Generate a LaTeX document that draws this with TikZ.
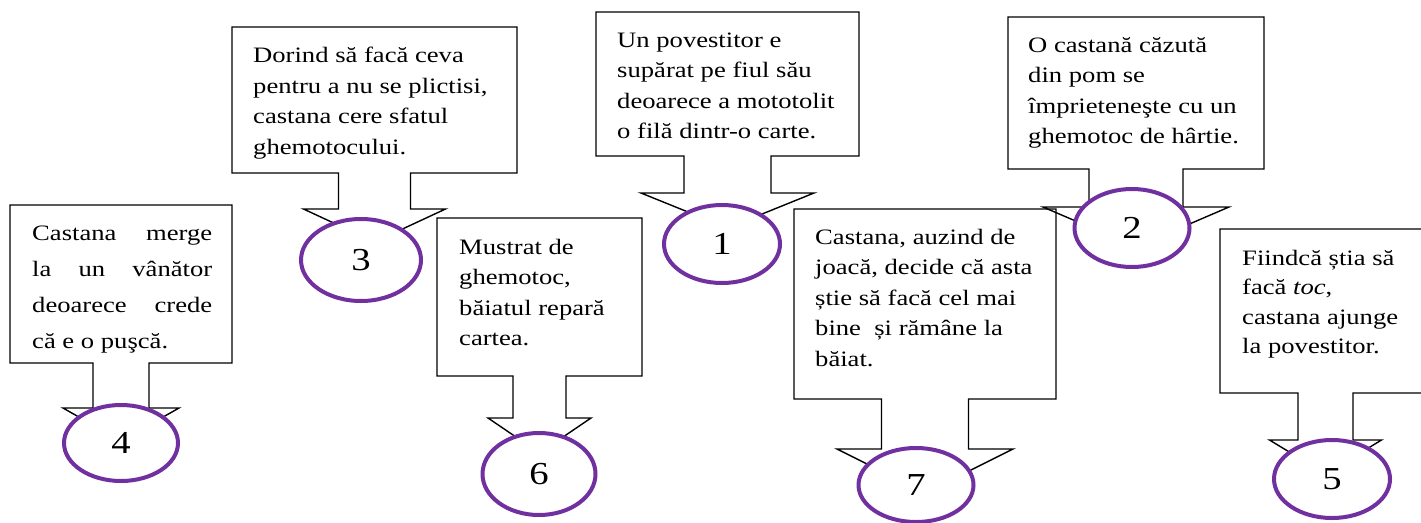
\documentclass[tikz,border=0pt]{standalone}
\usepackage{fontspec}
\usepackage{graphicx}
\setmainfont{Liberation Serif}
\usetikzlibrary{shapes.geometric,calc}
\definecolor{ovalpurple}{RGB}{112,48,160}
\newcommand\callbox[9]{%
  \pgfmathsetmacro\cx{(#2+#4)/2}%
  \node[boxnode, minimum width={(#4-#2)*1pt}, minimum height={(#5-#3)*1pt}, anchor=north west] (#1) at (#2,#3) {};
  \draw[outline] (#1.north west) -- (#1.north east) -- (#1.south east)
    -- (\cx+#6,#5) -- (\cx+#6,#7) -- (\cx+#8,#7) -- (\cx,#9) -- (\cx-#8,#7)
    -- (\cx-#6,#7) -- (\cx-#6,#5) -- (#1.south west) -- cycle;
}
% text stretched horizontally like the reference
\newcommand\stx[2][30.6pt]{\scalebox{1.21}[1]{\fontsize{22}{#1}\selectfont\begin{tabular}[t]{@{}l@{}}#2\end{tabular}}}
\newcommand\jline[1]{\hbox to 148.8pt{#1}}
\newcommand\numtxt[1]{\scalebox{1.21}[1]{#1}}
\begin{document}
\begin{tikzpicture}[x=1pt,y=-1pt,
  boxnode/.style={rectangle, draw=none, inner sep=0pt, outer sep=0pt},
  outline/.style={draw=black, line width=1.4pt, line join=miter},
  txt/.style={anchor=base west, inner sep=0pt},
  oval/.style={ellipse, draw=ovalpurple, line width=4pt, fill=white, inner sep=0pt,
    font=\fontsize{32}{36}\selectfont}
]
\useasboundingbox (0,0) rectangle (1421,522);
\clip (0,0) rectangle (1421,522);

% callout boxes: name, L, T, R, B, stem half, stem bottom, wing half, tip
\callbox{b2}{1008}{17}{1264}{169}{47}{207}{93}{247}
\callbox{b7}{794}{209}{1056}{399}{43.5}{449}{88}{493}
\callbox{b4}{10}{205}{232}{363}{28}{408}{58}{441}
\callbox{b3}{232}{27}{517}{173}{36}{209}{71}{242}
\callbox{b1}{596}{12}{859}{156}{43.5}{193}{86.5}{228}
\callbox{b5}{1220}{229}{1431}{393}{27.5}{440}{56}{474}
\callbox{b6}{437}{218}{642}{376}{26.5}{418}{51.5}{453}

% texts
\node[txt] (t1) at ($(b1.north west)+(21,35)$)
  {\stx{Un povestitor e\\supărat pe fiul său\\deoarece a mototolit\\o filă dintr-o carte.}};
\node[txt] (t2) at ($(b2.north west)+(20,35)$)
  {\stx{O castană căzută\\din pom se\\împrieteneşte cu un\\ghemotoc de hârtie.}};
\node[txt] (t3) at ($(b3.north west)+(21,35.5)$)
  {\stx{Dorind să facă ceva\\pentru a nu se plictisi,\\castana cere sfatul\\ghemotocului.}};
\node[txt] (t4) at ($(b4.north west)+(22,35)$)
  {\stx[36pt]{\jline{Castana\hfill merge}\\
   \jline{la\hfill un\hfill vânător}\\
   \jline{deoarece\hfill crede}\\
   că e o puşcă.}};
\node[txt] (t5) at ($(b5.north west)+(22,36)$)
  {\stx[29.5pt]{Fiindcă știa să\\facă \textit{toc},\\castana ajunge\\la povestitor.}};
\node[txt] (t6) at ($(b6.north west)+(22,36)$)
  {\stx{Mustrat de\\ghemotoc,\\băiatul repară\\cartea.}};
\node[txt] (t7) at ($(b7.north west)+(21,35)$)
  {\stx{Castana, auzind de\\joacă, decide că asta\\știe să facă cel mai\\bine \ și rămâne la\\băiat.}};

% numbered ovals
\node[oval, minimum width=116pt, minimum height=78pt] (e1) at (722,244) {\numtxt{1}};
\node[oval, minimum width=115pt, minimum height=78pt] (e2) at (1132,228) {\numtxt{2}};
\node[oval, minimum width=120pt, minimum height=82pt] (e3) at (361,260) {\numtxt{3}};
\node[oval, minimum width=114pt, minimum height=76pt] (e4) at (121,443) {\numtxt{4}};
\node[oval, minimum width=116pt, minimum height=78pt] (e5) at (1332,479) {\numtxt{5}};
\node[oval, minimum width=113pt, minimum height=82pt] (e6) at (539,474) {\numtxt{6}};
\node[oval, minimum width=115pt, minimum height=74pt] (e7) at (916,485) {\numtxt{7}};
\end{tikzpicture}
\end{document}
